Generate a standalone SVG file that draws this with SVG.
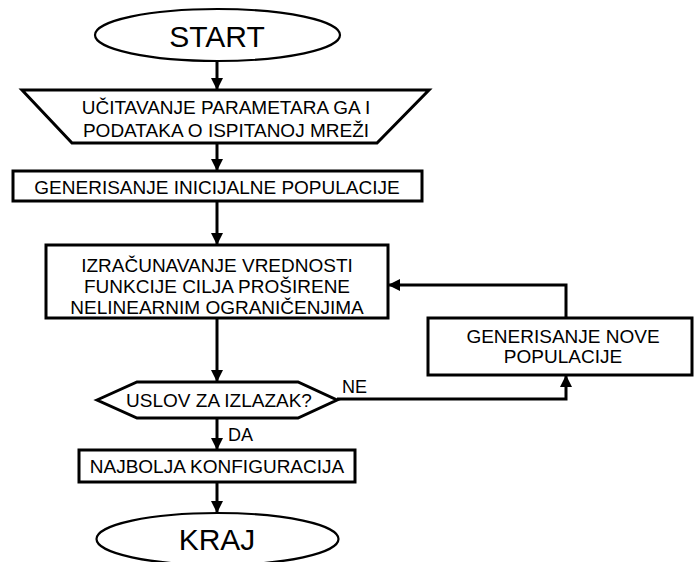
<svg xmlns="http://www.w3.org/2000/svg" width="694" height="562" viewBox="0 0 694 562">
<style>
.shape{fill:#fff;stroke:#000;stroke-width:3}
.ell{fill:#fff;stroke:#000;stroke-width:2.2}
.t{font-family:"Liberation Sans",Arial,sans-serif;font-size:19px;fill:#000;text-anchor:middle}
.big{font-family:"Liberation Sans",Arial,sans-serif;font-size:30px;fill:#000;text-anchor:middle}
.lbl{font-family:"Liberation Sans",Arial,sans-serif;font-size:18px;fill:#000}
.c{fill:none;stroke:#000;stroke-width:3}
</style>
<defs>
<marker id="arr" markerUnits="userSpaceOnUse" markerWidth="12" markerHeight="12" refX="12" refY="6" orient="auto">
<path d="M0,0 L12,6 L0,12 z" fill="#000"/>
</marker>
</defs>
<g id="connectors">
<line class="c" x1="217" y1="61" x2="217" y2="90" marker-end="url(#arr)"/>
<line class="c" x1="217" y1="143" x2="217" y2="171" marker-end="url(#arr)"/>
<line class="c" x1="217" y1="201" x2="217" y2="245" marker-end="url(#arr)"/>
<line class="c" x1="217" y1="318" x2="217" y2="382" marker-end="url(#arr)"/>
<line class="c" x1="217" y1="418" x2="217" y2="450" marker-end="url(#arr)"/>
<line class="c" x1="217" y1="482" x2="217" y2="513" marker-end="url(#arr)"/>
<polyline class="c" points="337,399 566,399 566,375" marker-end="url(#arr)"/>
<polyline class="c" points="566,318 566,285 388,285" marker-end="url(#arr)"/>
<text class="lbl" x="228" y="441">DA</text>
<text class="lbl" x="342" y="393">NE</text>
</g>
<g id="start">
<ellipse class="ell" cx="217.5" cy="35" rx="122.5" ry="26"/>
<text class="big" x="217" y="47">START</text>
</g>
<g id="input">
<polygon class="shape" points="22,90 429,90 377,143 72,143"/>
<text class="t" x="226" y="113.5">UČITAVANJE PARAMETARA GA I</text>
<text class="t" x="226" y="137">PODATAKA O ISPITANOJ MREŽI</text>
</g>
<g id="init">
<rect class="shape" x="13" y="171" width="409" height="30"/>
<text class="t" x="217" y="193.5">GENERISANJE INICIJALNE POPULACIJE</text>
</g>
<g id="eval">
<rect class="shape" x="46" y="245" width="342" height="73"/>
<text class="t" x="217" y="272">IZRAČUNAVANJE VREDNOSTI</text>
<text class="t" x="217" y="293">FUNKCIJE CILJA PROŠIRENE</text>
<text class="t" x="217" y="314">NELINEARNIM OGRANIČENJIMA</text>
</g>
<g id="newpop">
<rect class="shape" x="428" y="318" width="264" height="57"/>
<text class="t" x="563" y="343">GENERISANJE NOVE</text>
<text class="t" x="563" y="363">POPULACIJE</text>
</g>
<g id="cond">
<polygon class="shape" points="97,400 137,382 298,382 337,400 298,418 137,418"/>
<text class="t" x="219" y="407">USLOV ZA IZLAZAK?</text>
</g>
<g id="best">
<rect class="shape" x="79" y="450" width="276" height="32"/>
<text class="t" x="217" y="473">NAJBOLJA KONFIGURACIJA</text>
</g>
<g id="end">
<ellipse class="ell" cx="217.5" cy="539" rx="121" ry="26"/>
<text class="big" x="217" y="550">KRAJ</text>
</g>
</svg>
